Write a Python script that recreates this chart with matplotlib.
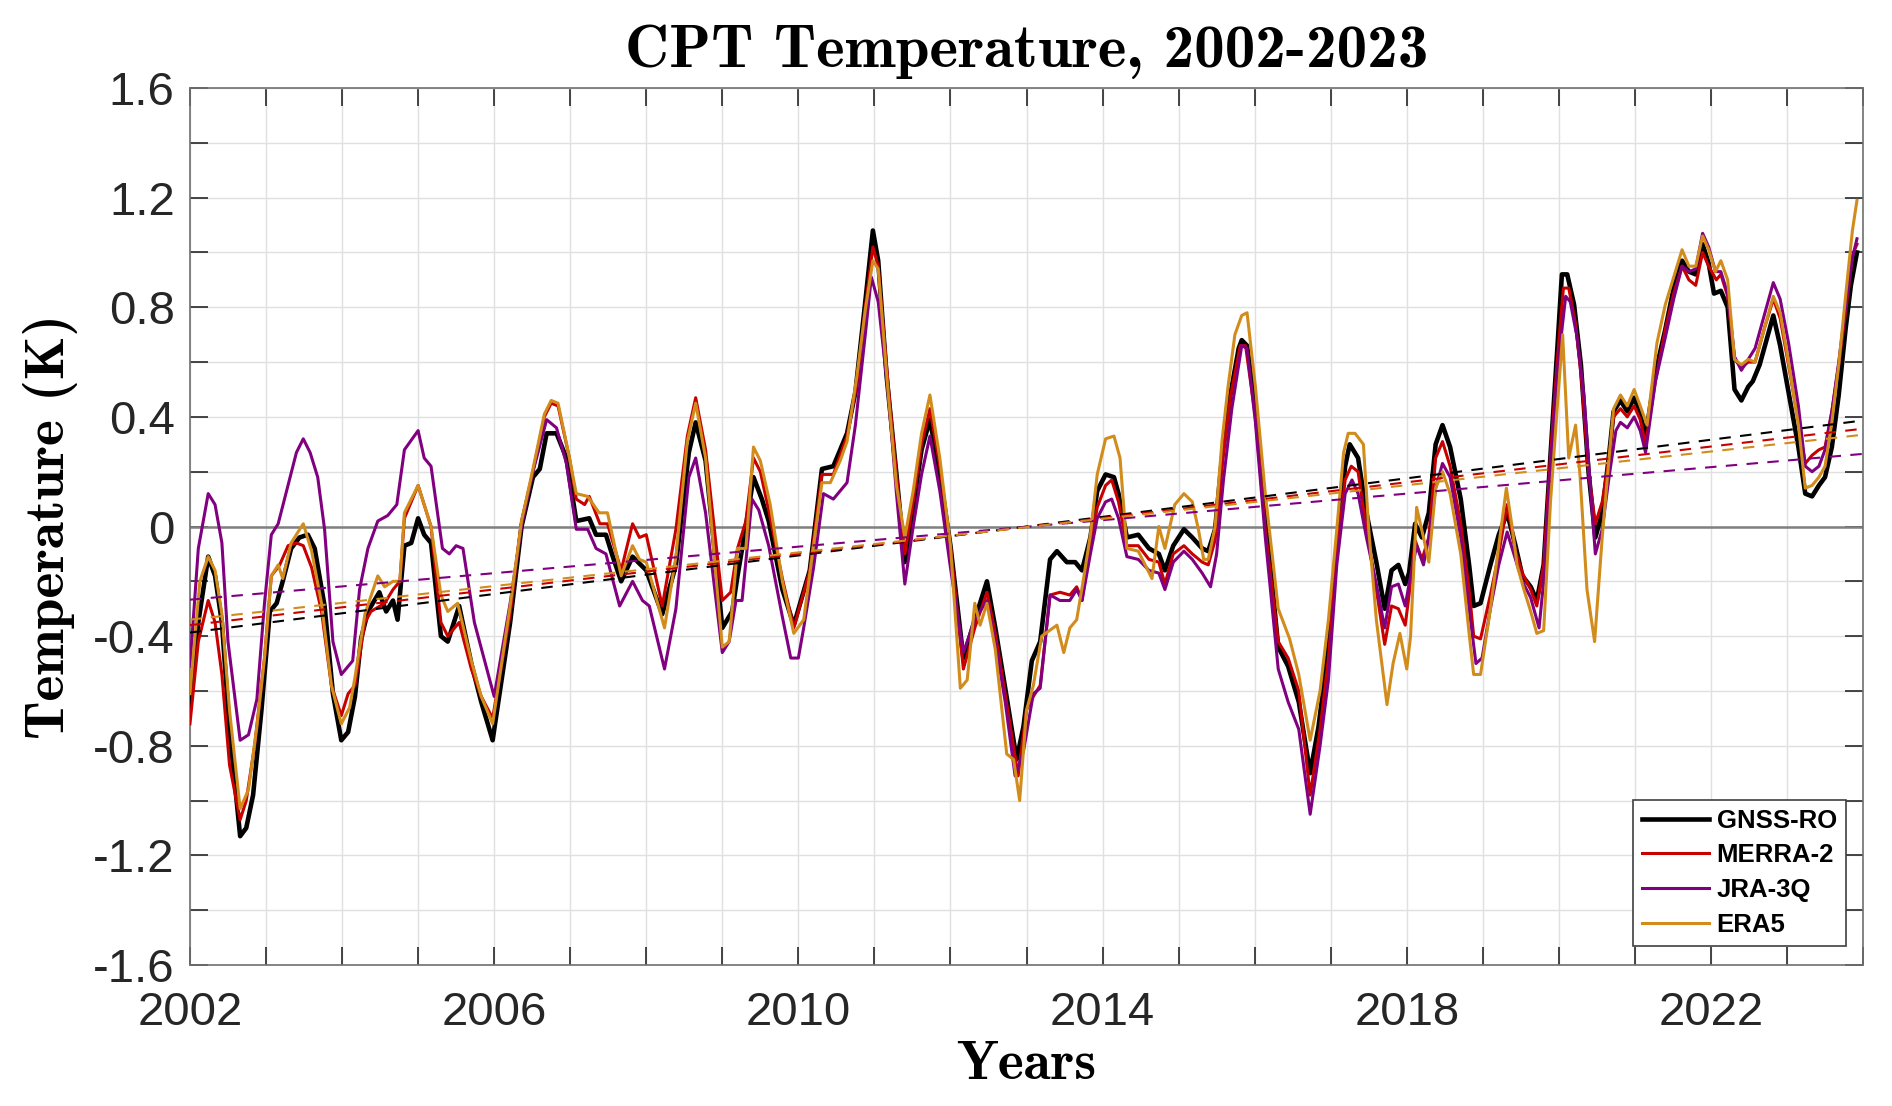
#!/usr/bin/env python3
"""
CPT temperature anomalies 2002-2023 (GNSS-RO vs reanalyses), with linear trends.
Saves out.png
"""

import numpy as np
import matplotlib
matplotlib.use("Agg")
import matplotlib.pyplot as plt

# ---------------------------------------------------------------- data
gnss_years = [
    2002.00, 2002.11, 2002.24, 2002.33, 2002.42, 2002.52, 2002.66, 2002.74, 2002.83, 2002.94,
    2003.05, 2003.14, 2003.22, 2003.33, 2003.44, 2003.55, 2003.64, 2003.77, 2003.88, 2003.99,
    2004.08, 2004.17, 2004.25, 2004.34, 2004.49, 2004.58, 2004.67, 2004.73, 2004.82, 2004.91,
    2005.00, 2005.08, 2005.17, 2005.30, 2005.39, 2005.54, 2005.70, 2005.83, 2005.98,
    2006.21, 2006.36, 2006.51, 2006.60, 2006.69, 2006.82, 2006.95, 2007.08, 2007.25, 2007.34,
    2007.47, 2007.56, 2007.67, 2007.82, 2008.00, 2008.21, 2008.39, 2008.56, 2008.65, 2008.78,
    2009.00, 2009.13, 2009.20, 2009.31, 2009.41, 2009.52, 2009.61, 2009.79, 2009.94,
    2010.15, 2010.31, 2010.46, 2010.64, 2010.75, 2010.88, 2010.98, 2011.05, 2011.16, 2011.29,
    2011.40, 2011.51, 2011.62, 2011.73, 2011.86, 2012.00, 2012.17, 2012.32, 2012.48, 2012.59,
    2012.72, 2012.87, 2012.96, 2013.07, 2013.18, 2013.31, 2013.40, 2013.53, 2013.64, 2013.73,
    2013.84, 2013.93, 2014.04, 2014.15, 2014.21, 2014.32, 2014.47, 2014.61, 2014.74, 2014.82,
    2014.93, 2015.07, 2015.18, 2015.31, 2015.39, 2015.48, 2015.57, 2015.68, 2015.79, 2015.83,
    2015.90, 2016.01, 2016.14, 2016.31, 2016.44, 2016.58, 2016.73, 2016.84, 2016.97, 2017.08,
    2017.19, 2017.25, 2017.36, 2017.47, 2017.60, 2017.71, 2017.80, 2017.89, 2017.98,
    2018.03, 2018.11, 2018.20, 2018.29, 2018.38, 2018.47, 2018.57, 2018.71, 2018.82, 2018.88,
    2018.97, 2019.10, 2019.21, 2019.32, 2019.43, 2019.52, 2019.63, 2019.71, 2019.80, 2019.89,
    2019.98, 2020.04, 2020.11, 2020.20, 2020.29, 2020.39, 2020.48, 2020.57, 2020.66, 2020.72,
    2020.81, 2020.90, 2020.99, 2021.07, 2021.14, 2021.27, 2021.40, 2021.51, 2021.62, 2021.71,
    2021.80, 2021.89, 2021.97, 2022.04, 2022.13, 2022.22, 2022.31, 2022.40, 2022.49, 2022.55,
    2022.64, 2022.73, 2022.82, 2022.91, 2023.02, 2023.15, 2023.24, 2023.33, 2023.42, 2023.50,
    2023.59, 2023.68, 2023.77, 2023.84, 2023.92,
]
gnss_vals = [
    -0.66, -0.35, -0.11, -0.18, -0.35, -0.74, -1.13, -1.10, -0.98, -0.67,
    -0.31, -0.28, -0.20, -0.08, -0.04, -0.03, -0.08, -0.29, -0.61, -0.78,
    -0.75, -0.62, -0.41, -0.31, -0.24, -0.31, -0.27, -0.34, -0.07, -0.06,
    0.03, -0.03, -0.06, -0.40, -0.42, -0.29, -0.50, -0.64, -0.78,
    -0.35, 0.00, 0.18, 0.21, 0.34, 0.34, 0.25, 0.02, 0.03, -0.03,
    -0.03, -0.11, -0.20, -0.11, -0.16, -0.32, -0.14, 0.27, 0.38, 0.24,
    -0.37, -0.31, -0.18, 0.00, 0.18, 0.10, 0.02, -0.23, -0.36,
    -0.16, 0.21, 0.22, 0.34, 0.49, 0.82, 1.08, 0.97, 0.55, 0.19,
    -0.13, 0.07, 0.28, 0.39, 0.19, -0.07, -0.48, -0.34, -0.20, -0.37,
    -0.59, -0.85, -0.73, -0.49, -0.42, -0.12, -0.09, -0.13, -0.13, -0.16,
    -0.04, 0.13, 0.19, 0.18, 0.12, -0.04, -0.03, -0.08, -0.10, -0.16,
    -0.07, -0.01, -0.04, -0.08, -0.09, -0.01, 0.25, 0.48, 0.65, 0.68,
    0.66, 0.44, 0.05, -0.44, -0.51, -0.64, -0.90, -0.73, -0.44, -0.08,
    0.22, 0.30, 0.25, 0.05, -0.13, -0.30, -0.16, -0.14, -0.21,
    -0.17, 0.01, -0.04, 0.05, 0.30, 0.37, 0.29, 0.10, -0.14, -0.29,
    -0.28, -0.14, -0.03, 0.05, -0.07, -0.18, -0.22, -0.27, -0.14, 0.26,
    0.65, 0.92, 0.92, 0.81, 0.59, 0.20, -0.04, 0.05, 0.26, 0.42,
    0.46, 0.42, 0.47, 0.41, 0.33, 0.56, 0.72, 0.87, 0.97, 0.93,
    0.92, 1.03, 0.96, 0.85, 0.86, 0.80, 0.50, 0.46, 0.51, 0.53,
    0.59, 0.68, 0.77, 0.66, 0.49, 0.29, 0.12, 0.11, 0.15, 0.18,
    0.29, 0.48, 0.72, 0.88, 1.00,
]

merra_years = [
    2002.00, 2002.11, 2002.24, 2002.33, 2002.42, 2002.52, 2002.66, 2002.74, 2002.85, 2002.98,
    2003.07, 2003.18, 2003.29, 2003.40, 2003.49, 2003.60, 2003.73, 2003.86, 2003.99, 2004.08,
    2004.17, 2004.30, 2004.38, 2004.56, 2004.67, 2004.76, 2004.82, 2005.00, 2005.17, 2005.30,
    2005.39, 2005.54, 2005.70, 2005.83, 2005.98,
    2006.21, 2006.36, 2006.51, 2006.66, 2006.75, 2006.84, 2006.99, 2007.08, 2007.19, 2007.25,
    2007.39, 2007.49, 2007.67, 2007.82, 2007.91, 2008.00, 2008.21, 2008.39, 2008.54, 2008.65,
    2008.78, 2009.00, 2009.11, 2009.20, 2009.31, 2009.41, 2009.50, 2009.61, 2009.79, 2009.94,
    2010.15, 2010.31, 2010.46, 2010.64, 2010.77, 2010.88, 2010.98, 2011.05, 2011.18, 2011.29,
    2011.40, 2011.51, 2011.62, 2011.73, 2011.86, 2012.00, 2012.17, 2012.32, 2012.48, 2012.59,
    2012.72, 2012.89, 2013.00, 2013.09, 2013.18, 2013.31, 2013.44, 2013.57, 2013.66, 2013.73,
    2013.84, 2013.93, 2014.04, 2014.12, 2014.21, 2014.32, 2014.47, 2014.61, 2014.74, 2014.82,
    2014.93, 2015.07, 2015.18, 2015.31, 2015.39, 2015.48, 2015.57, 2015.68, 2015.81, 2015.88,
    2016.01, 2016.14, 2016.31, 2016.44, 2016.58, 2016.73, 2016.86, 2016.97, 2017.08, 2017.19,
    2017.27, 2017.36, 2017.47, 2017.60, 2017.71, 2017.80, 2017.89, 2017.98,
    2018.03, 2018.11, 2018.20, 2018.29, 2018.38, 2018.47, 2018.57, 2018.71, 2018.82, 2018.88,
    2018.97, 2019.10, 2019.21, 2019.32, 2019.43, 2019.52, 2019.63, 2019.71, 2019.80, 2019.89,
    2019.98, 2020.06, 2020.13, 2020.22, 2020.30, 2020.39, 2020.48, 2020.57, 2020.66, 2020.72,
    2020.81, 2020.90, 2020.99, 2021.07, 2021.14, 2021.27, 2021.40, 2021.51, 2021.62, 2021.71,
    2021.80, 2021.89, 2021.97, 2022.07, 2022.13, 2022.22, 2022.31, 2022.40, 2022.49, 2022.58,
    2022.71, 2022.82, 2022.91, 2023.02, 2023.15, 2023.24, 2023.33, 2023.42, 2023.50, 2023.59,
    2023.68, 2023.77, 2023.86, 2023.92,
]
merra_vals = [
    -0.72, -0.42, -0.27, -0.35, -0.54, -0.87, -1.07, -1.00, -0.80, -0.48,
    -0.18, -0.14, -0.07, -0.06, -0.07, -0.15, -0.31, -0.58, -0.69, -0.61,
    -0.58, -0.35, -0.31, -0.28, -0.23, -0.20, 0.03, 0.15, 0.00, -0.35,
    -0.40, -0.35, -0.52, -0.62, -0.70,
    -0.32, 0.02, 0.20, 0.40, 0.45, 0.44, 0.25, 0.10, 0.08, 0.11,
    0.01, 0.01, -0.16, 0.01, -0.04, -0.03, -0.29, -0.01, 0.33, 0.47,
    0.28, -0.27, -0.24, -0.08, 0.02, 0.25, 0.20, 0.06, -0.19, -0.37,
    -0.16, 0.19, 0.19, 0.33, 0.52, 0.80, 1.02, 0.95, 0.52, 0.19,
    -0.10, 0.09, 0.30, 0.43, 0.22, -0.07, -0.52, -0.37, -0.24, -0.39,
    -0.61, -0.91, -0.67, -0.62, -0.58, -0.25, -0.24, -0.25, -0.22, -0.27,
    -0.07, 0.07, 0.15, 0.17, 0.09, -0.07, -0.07, -0.12, -0.13, -0.21,
    -0.10, -0.07, -0.10, -0.13, -0.14, -0.05, 0.22, 0.47, 0.66, 0.66,
    0.40, -0.01, -0.42, -0.48, -0.60, -0.98, -0.74, -0.48, -0.10, 0.17,
    0.22, 0.20, -0.01, -0.23, -0.43, -0.29, -0.30, -0.36,
    -0.25, -0.05, -0.12, -0.04, 0.25, 0.31, 0.22, 0.01, -0.23, -0.40,
    -0.41, -0.25, -0.10, 0.08, -0.09, -0.17, -0.23, -0.29, -0.14, 0.26,
    0.61, 0.87, 0.87, 0.74, 0.53, 0.20, 0.01, 0.09, 0.25, 0.40,
    0.43, 0.40, 0.44, 0.39, 0.30, 0.53, 0.72, 0.85, 0.95, 0.90,
    0.88, 1.00, 0.95, 0.90, 0.92, 0.84, 0.61, 0.58, 0.60, 0.60,
    0.73, 0.83, 0.76, 0.59, 0.38, 0.23, 0.26, 0.28, 0.29, 0.42,
    0.59, 0.78, 0.99, 1.03,
]

jra_years = [
    2002.00, 2002.11, 2002.24, 2002.33, 2002.42, 2002.50, 2002.66, 2002.77, 2002.88, 2002.98,
    2003.07, 2003.16, 2003.29, 2003.40, 2003.49, 2003.58, 2003.68, 2003.77, 2003.88, 2003.99,
    2004.14, 2004.23, 2004.34, 2004.47, 2004.60, 2004.72, 2004.82, 2005.00, 2005.08, 2005.17,
    2005.32, 2005.41, 2005.50, 2005.59, 2005.74, 2006.00,
    2006.21, 2006.36, 2006.51, 2006.69, 2006.82, 2006.95, 2007.08, 2007.23, 2007.34, 2007.47,
    2007.65, 2007.82, 2007.95, 2008.04, 2008.24, 2008.39, 2008.56, 2008.65, 2008.78, 2009.00,
    2009.09, 2009.18, 2009.26, 2009.39, 2009.48, 2009.61, 2009.79, 2009.90, 2010.00,
    2010.07, 2010.20, 2010.33, 2010.46, 2010.64, 2010.75, 2010.88, 2010.96, 2011.05, 2011.18,
    2011.29, 2011.40, 2011.51, 2011.62, 2011.73, 2011.86, 2012.00, 2012.17, 2012.32, 2012.48,
    2012.59, 2012.72, 2012.85, 2012.96, 2013.09, 2013.18, 2013.31, 2013.44, 2013.57, 2013.66,
    2013.73, 2013.84, 2013.93, 2014.04, 2014.12, 2014.21, 2014.32, 2014.47, 2014.61, 2014.74,
    2014.82, 2014.93, 2015.07, 2015.18, 2015.31, 2015.42, 2015.50, 2015.59, 2015.70, 2015.83,
    2015.90, 2016.01, 2016.14, 2016.31, 2016.44, 2016.58, 2016.73, 2016.86, 2016.97, 2017.08,
    2017.19, 2017.28, 2017.36, 2017.47, 2017.60, 2017.71, 2017.80, 2017.89, 2017.98,
    2018.03, 2018.13, 2018.22, 2018.31, 2018.38, 2018.47, 2018.57, 2018.71, 2018.82, 2018.91,
    2018.99, 2019.10, 2019.21, 2019.32, 2019.43, 2019.52, 2019.63, 2019.74, 2019.80, 2019.89,
    2019.98, 2020.09, 2020.15, 2020.24, 2020.33, 2020.42, 2020.48, 2020.57, 2020.66, 2020.75,
    2020.81, 2020.90, 2020.99, 2021.07, 2021.14, 2021.27, 2021.40, 2021.51, 2021.62, 2021.71,
    2021.80, 2021.89, 2021.97, 2022.06, 2022.13, 2022.22, 2022.31, 2022.40, 2022.49, 2022.58,
    2022.71, 2022.82, 2022.91, 2023.02, 2023.15, 2023.24, 2023.33, 2023.42, 2023.50, 2023.59,
    2023.68, 2023.77, 2023.86, 2023.92,
]
jra_vals = [
    -0.51, -0.08, 0.12, 0.08, -0.06, -0.42, -0.78, -0.76, -0.63, -0.28,
    -0.03, 0.01, 0.15, 0.27, 0.32, 0.27, 0.18, -0.01, -0.42, -0.54,
    -0.49, -0.23, -0.08, 0.02, 0.04, 0.08, 0.28, 0.35, 0.25, 0.22,
    -0.08, -0.10, -0.07, -0.08, -0.35, -0.62,
    -0.28, 0.00, 0.20, 0.39, 0.36, 0.23, -0.01, -0.01, -0.08, -0.10,
    -0.29, -0.20, -0.27, -0.29, -0.52, -0.30, 0.18, 0.25, 0.05, -0.46,
    -0.42, -0.27, -0.27, 0.10, 0.06, -0.07, -0.33, -0.48, -0.48,
    -0.37, -0.15, 0.12, 0.10, 0.16, 0.37, 0.70, 0.91, 0.82, 0.49,
    0.12, -0.21, 0.00, 0.19, 0.33, 0.13, -0.15, -0.46, -0.34, -0.27,
    -0.42, -0.64, -0.91, -0.82, -0.61, -0.59, -0.25, -0.27, -0.27, -0.23,
    -0.27, -0.10, 0.03, 0.09, 0.10, 0.03, -0.11, -0.12, -0.16, -0.17,
    -0.23, -0.13, -0.09, -0.12, -0.17, -0.22, -0.10, 0.17, 0.43, 0.66,
    0.65, 0.38, -0.04, -0.52, -0.64, -0.74, -1.05, -0.80, -0.56, -0.14,
    0.12, 0.17, 0.12, -0.04, -0.21, -0.37, -0.22, -0.21, -0.29,
    -0.21, -0.07, -0.14, -0.01, 0.14, 0.23, 0.18, -0.04, -0.30, -0.50,
    -0.48, -0.30, -0.14, -0.02, -0.12, -0.20, -0.26, -0.37, -0.20, 0.22,
    0.57, 0.84, 0.82, 0.69, 0.48, 0.12, -0.10, -0.01, 0.18, 0.35,
    0.38, 0.36, 0.40, 0.35, 0.27, 0.53, 0.69, 0.83, 0.95, 0.93,
    0.94, 1.07, 1.02, 0.93, 0.93, 0.85, 0.62, 0.57, 0.61, 0.65,
    0.78, 0.89, 0.83, 0.67, 0.44, 0.22, 0.20, 0.22, 0.28, 0.42,
    0.60, 0.80, 0.98, 1.05,
]

era5_years = [
    2002.00, 2002.13, 2002.24, 2002.33, 2002.42, 2002.52, 2002.66, 2002.77, 2002.88, 2002.98,
    2003.07, 2003.16, 2003.22, 2003.33, 2003.49, 2003.60, 2003.73, 2003.86, 2003.99, 2004.10,
    2004.17, 2004.30, 2004.47, 2004.56, 2004.67, 2004.76, 2004.82, 2005.00, 2005.17, 2005.30,
    2005.39, 2005.52, 2005.70, 2005.83, 2005.98,
    2006.21, 2006.36, 2006.51, 2006.66, 2006.75, 2006.84, 2006.99, 2007.08, 2007.23, 2007.38,
    2007.49, 2007.67, 2007.82, 2007.91, 2008.00, 2008.24, 2008.39, 2008.54, 2008.65, 2008.78,
    2009.00, 2009.09, 2009.20, 2009.31, 2009.41, 2009.50, 2009.63, 2009.79, 2009.94,
    2010.07, 2010.20, 2010.31, 2010.42, 2010.55, 2010.64, 2010.77, 2010.88, 2010.98, 2011.05,
    2011.18, 2011.29, 2011.40, 2011.51, 2011.62, 2011.73, 2011.86, 2012.00, 2012.13, 2012.22,
    2012.32, 2012.39, 2012.48, 2012.59, 2012.74, 2012.83, 2012.91, 2013.00, 2013.09, 2013.20,
    2013.40, 2013.49, 2013.57, 2013.66, 2013.75, 2013.84, 2013.93, 2014.04, 2014.15, 2014.23,
    2014.32, 2014.47, 2014.65, 2014.74, 2014.82, 2014.95, 2015.07, 2015.18, 2015.26, 2015.33,
    2015.39, 2015.48, 2015.57, 2015.65, 2015.74, 2015.83, 2015.90, 2016.01, 2016.14, 2016.31,
    2016.46, 2016.58, 2016.73, 2016.86, 2016.97, 2017.08, 2017.17, 2017.23, 2017.32, 2017.43,
    2017.50, 2017.60, 2017.74, 2017.82, 2017.91, 2018.00,
    2018.05, 2018.13, 2018.22, 2018.29, 2018.38, 2018.47, 2018.57, 2018.71, 2018.82, 2018.88,
    2018.97, 2019.10, 2019.21, 2019.31, 2019.39, 2019.45, 2019.54, 2019.63, 2019.71, 2019.80,
    2019.89, 2019.98, 2020.05, 2020.13, 2020.22, 2020.28, 2020.37, 2020.47, 2020.57, 2020.66,
    2020.72, 2020.81, 2020.90, 2020.99, 2021.07, 2021.16, 2021.29, 2021.40, 2021.51, 2021.62,
    2021.71, 2021.80, 2021.89, 2021.97, 2022.06, 2022.13, 2022.22, 2022.31, 2022.40, 2022.49,
    2022.58, 2022.71, 2022.82, 2022.91, 2023.02, 2023.15, 2023.24, 2023.33, 2023.42, 2023.50,
    2023.59, 2023.68, 2023.77, 2023.86, 2023.92,
]
era5_vals = [
    -0.61, -0.20, -0.11, -0.16, -0.32, -0.67, -1.03, -0.96, -0.73, -0.48,
    -0.18, -0.14, -0.19, -0.06, 0.01, -0.09, -0.28, -0.58, -0.72, -0.66,
    -0.55, -0.32, -0.18, -0.22, -0.20, -0.20, 0.05, 0.15, 0.00, -0.25,
    -0.31, -0.28, -0.49, -0.62, -0.72,
    -0.29, 0.02, 0.21, 0.41, 0.46, 0.45, 0.25, 0.12, 0.11, 0.05,
    0.05, -0.18, -0.07, -0.12, -0.13, -0.37, -0.11, 0.31, 0.45, 0.25,
    -0.44, -0.42, -0.08, -0.08, 0.29, 0.24, 0.08, -0.20, -0.39,
    -0.34, -0.07, 0.16, 0.16, 0.24, 0.31, 0.55, 0.79, 0.97, 0.94,
    0.49, 0.15, -0.04, 0.13, 0.34, 0.48, 0.25, -0.07, -0.59, -0.56,
    -0.28, -0.36, -0.28, -0.45, -0.83, -0.85, -1.00, -0.67, -0.58, -0.40,
    -0.36, -0.46, -0.37, -0.34, -0.19, -0.03, 0.19, 0.32, 0.33, 0.25,
    -0.08, -0.09, -0.19, 0.00, -0.08, 0.08, 0.12, 0.09, -0.01, -0.12,
    -0.12, 0.00, 0.31, 0.51, 0.70, 0.77, 0.78, 0.51, 0.12, -0.30,
    -0.41, -0.54, -0.78, -0.60, -0.34, -0.01, 0.27, 0.34, 0.34, 0.30,
    -0.01, -0.34, -0.65, -0.50, -0.39, -0.52,
    -0.40, 0.07, -0.04, -0.13, 0.14, 0.20, 0.12, -0.10, -0.39, -0.54,
    -0.54, -0.30, -0.07, 0.14, -0.01, -0.14, -0.23, -0.31, -0.39, -0.38,
    0.09, 0.44, 0.70, 0.25, 0.37, 0.18, -0.23, -0.42, -0.04, 0.25,
    0.43, 0.48, 0.44, 0.50, 0.44, 0.37, 0.67, 0.81, 0.91, 1.01,
    0.95, 0.95, 1.06, 1.01, 0.93, 0.97, 0.90, 0.61, 0.59, 0.61,
    0.60, 0.73, 0.84, 0.78, 0.60, 0.37, 0.14, 0.15, 0.18, 0.22,
    0.38, 0.59, 0.84, 1.08, 1.19,
]

names = ["GNSS-RO", "MERRA-2", "JRA-3Q", "ERA5"]
colors = ["#000000", "#c80000", "#800080", "#d28c1c"]
widths = [3.3, 2.2, 2.2, 2.2]

# linear trend lines, value at 2002 and at 2024
trend_x = [2002.0, 2024.0]
trend_start = [-0.387, -0.360, -0.267, -0.340]
trend_end = [0.387, 0.357, 0.265, 0.335]

# ---------------------------------------------------------------- plot
fig = plt.figure(figsize=(18.92, 11.06), dpi=100)
ax = fig.add_axes([0.1004, 0.1275, 0.8843, 0.7929])

series = [
    (gnss_years, gnss_vals),
    (merra_years, merra_vals),
    (jra_years, jra_vals),
    (era5_years, era5_vals),
]

ax.axhline(0, color="#808080", lw=1.8, zorder=1)

for (xs, ys), name, c, w in zip(series, names, colors, widths):
    ax.plot(xs, ys, color=c, lw=w, label=name, zorder=3)

for s, e, c in zip(trend_start, trend_end, colors):
    ax.plot(trend_x, [s, e], color=c, lw=1.5, dashes=(5.5, 4.5), zorder=4)

ax.set_xlim(2002, 2024)
ax.set_ylim(-1.6, 1.6)

xt = np.arange(2002, 2025, 1)
ax.set_xticks(xt)
ax.set_xticklabels([str(v) if (v - 2002) % 4 == 0 else "" for v in xt])
yt = np.round(np.arange(-1.6, 1.61, 0.2), 1)
ax.set_yticks(yt)
ax.set_yticklabels([("0" if abs(v) < 1e-9 else f"{v:.1f}") if round(v * 10) % 4 == 0 else ""
                    for v in yt])

ax.grid(True, color="#e0e0e0", lw=1.0)
ax.set_axisbelow(True)
ax.tick_params(direction="in", length=13, width=1.2, top=True, right=True,
               colors="#262626", labelsize=34)
ax.tick_params(axis="y", pad=11)
ax.tick_params(axis="x", pad=19)
for lab in ax.get_xticklabels() + ax.get_yticklabels():
    lab.set_fontfamily("Liberation Sans")
for sp in ax.spines.values():
    sp.set_color("#707070")
    sp.set_linewidth(1.2)

ax.set_title("CPT Temperature, 2002-2023", fontfamily="cmb10", fontsize=44, pad=15)
ax.set_ylabel("Temperature (K)", fontfamily="cmb10", fontsize=40, labelpad=11)
ax.set_xlabel("Years", fontfamily="cmb10", fontsize=40, labelpad=4)

leg = ax.legend(loc="lower right", prop={"family": "Liberation Sans", "weight": "bold", "size": 18.5},
                handlelength=2.6, handletextpad=0.3, borderpad=0.35, labelspacing=0.42,
                borderaxespad=0, fancybox=False, framealpha=1, edgecolor="#404040",
                bbox_to_anchor=(0.9898, 0.0217))
leg.get_frame().set_linewidth(1.2)

fig.savefig("out.png", dpi=100)
plt.close(fig)
